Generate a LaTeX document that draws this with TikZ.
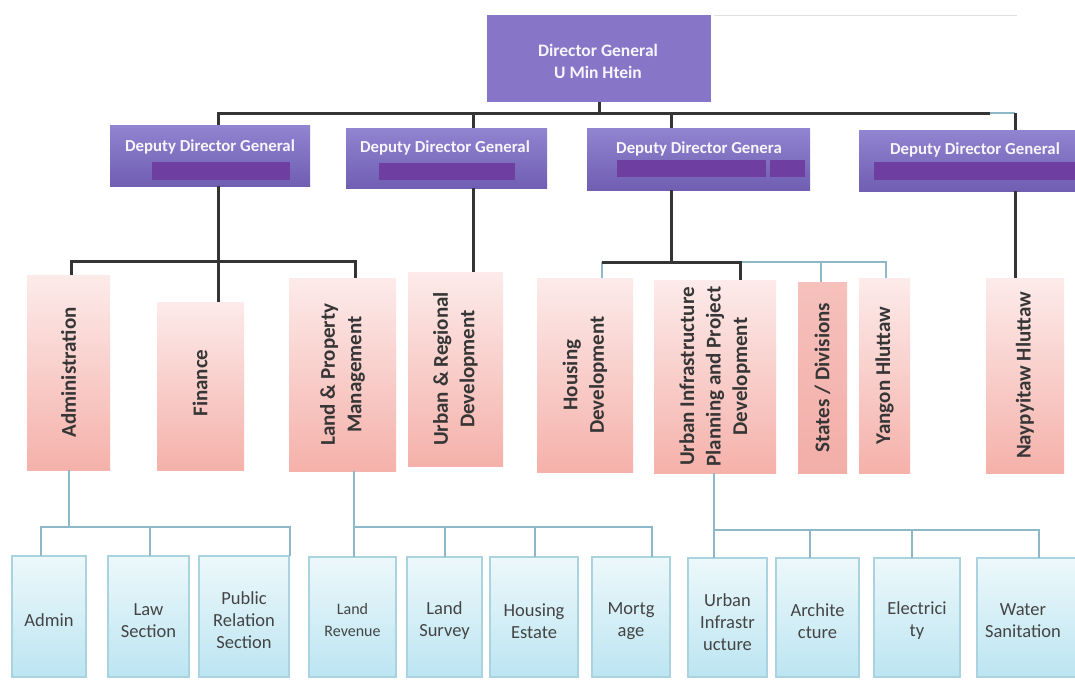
\documentclass[tikz,border=0pt]{standalone}
\usepackage{fontspec}
\setmainfont{Carlito}
\definecolor{purpTop}{HTML}{9184D0}
\definecolor{purpBot}{HTML}{705EB2}
\definecolor{purpBar}{HTML}{6E3FA0}
\definecolor{dgFill}{HTML}{8776C8}
\definecolor{pinkTop}{HTML}{FCEBEA}
\definecolor{pinkBot}{HTML}{F5B1AA}
\definecolor{pinkDeep}{HTML}{F3AEA8}
\definecolor{blueTop}{HTML}{EDF8FA}
\definecolor{blueBot}{HTML}{BCE5F2}
\definecolor{blueEdge}{HTML}{A9D3DF}
\definecolor{lineBlue}{HTML}{8DB8C8}
\definecolor{lineDark}{HTML}{343434}
\definecolor{txtDark}{HTML}{363636}
\definecolor{txtBlue}{HTML}{444444}

% box from its corners: style, name, x1, y1, x2, y2
\newcommand\orgbox[6]{%
  \node[#1, minimum width={(#5-#3)*1pt}, minimum height={(#6-#4)*1pt}]
    (#2) at ({(#3+#5)/2},{(#4+#6)/2}) {};}

\begin{document}
\begin{tikzpicture}[x=1pt,y=-1pt,
  base/.style={inner sep=0pt, outer sep=0pt},
  dgbox/.style={base, fill=dgFill},
  ddgbox/.style={base, top color=purpTop, bottom color=purpBot},
  ddgbar/.style={base, fill=purpBar},
  pinkbox/.style={base, top color=pinkTop, bottom color=pinkBot},
  pinkdeep/.style={base, top color=pinkDeep!70!pinkTop, bottom color=pinkDeep},
  bluebox/.style={base, top color=blueTop, bottom color=blueBot, draw=blueEdge, line width=1.2pt},
  dgtext/.style={base, text=white!92!purpTop, align=center, font=\bfseries\fontsize{17.5}{22}\selectfont},
  ddgtext/.style={base, text=white!92!purpTop, font=\bfseries\fontsize{16.8}{20}\selectfont},
  ptext/.style={base, rotate=90, text=txtDark, align=center, font=\bfseries\fontsize{21}{26.5}\selectfont},
  btext/.style={base, text=txtBlue, align=center, font=\fontsize{18.5}{22}\selectfont},
  blk/.style={draw=lineDark, line width=3pt},
  lbl/.style={draw=lineBlue, line width=1.8pt}
]
\useasboundingbox (0,0) rectangle (1075,681);
\fill[white] (0,0) rectangle (1075,681);

% faint rule across the top
\coordinate (rA) at (714,15);
\coordinate (rB) at (1017,15);
\draw[black!12, line width=1pt] (rA) -- (rB);

% ---------- Director General ----------
\orgbox{dgbox}{dg}{487}{15}{711}{102}
\node[dgtext] (dgT) at (598,61) {Director General\\U Min Htein};

% ---------- Deputy Directors General ----------
\orgbox{ddgbox}{ddg1}{110}{125}{310}{186}
\orgbox{ddgbox}{ddg2}{346}{128}{547}{188}
\orgbox{ddgbox}{ddg3}{587}{128}{810}{190}
\orgbox{ddgbox}{ddg4}{859}{130}{1078}{191}
\orgbox{ddgbar}{bar1}{152}{162}{290}{180}
\orgbox{ddgbar}{bar2}{379}{163}{515}{180}
\orgbox{ddgbar}{bar3a}{617}{160}{766}{177}
\orgbox{ddgbar}{bar3b}{770}{160}{805}{177}
\orgbox{ddgbar}{bar4}{874}{162}{1078}{180}
\node[ddgtext] (ddg1T) at (210,147) {Deputy Director General};
\node[ddgtext] (ddg2T) at (445,148) {Deputy Director General};
\node[ddgtext] (ddg3T) at (699,149) {Deputy Director Genera};
\node[ddgtext] (ddg4T) at (975,150) {Deputy Director General};

% ---------- departments ----------
\orgbox{pinkbox}{adm}{27}{275}{110}{470}
\orgbox{pinkbox}{fin}{157}{302}{244}{470}
\orgbox{pinkbox}{lpm}{289}{278}{396}{471}
\orgbox{pinkbox}{urd}{408}{272}{503}{466}
\orgbox{pinkbox}{hsd}{537}{278}{633}{472}
\orgbox{pinkbox}{uip}{654}{280}{776}{473}
\orgbox{pinkdeep}{std}{798}{282}{847}{473}
\orgbox{pinkbox}{ygn}{859}{278}{910}{473}
\orgbox{pinkbox}{npt}{986}{278}{1064}{473}
\node[ptext] (admT) at (adm) {Administration};
\node[ptext] (finT) at (200,383) {Finance};
\node[ptext] (lpmT) at (lpm) {Land \& Property\\Management};
\node[ptext] (urdT) at (urd) {Urban \& Regional\\Development};
\node[ptext] (hsdT) at (hsd) {Housing\\Development};
\node[ptext] (uipT) at (uip) {Urban Infrastructure\\Planning and Project\\Development};
\node[ptext] (stdT) at (std) {States / Divisions};
\node[ptext] (ygnT) at (ygn) {Yangon Hluttaw};
\node[ptext] (nptT) at (npt) {Naypyitaw Hluttaw};

% ---------- sections ----------
\orgbox{bluebox}{sAdm}{12}{556}{86}{677}
\orgbox{bluebox}{sLaw}{108}{556}{189}{677}
\orgbox{bluebox}{sPR}{199}{556}{289}{677}
\orgbox{bluebox}{sLR}{309}{557}{396}{677}
\orgbox{bluebox}{sLS}{407}{557}{482}{677}
\orgbox{bluebox}{sHE}{490}{557}{578}{677}
\orgbox{bluebox}{sMG}{592}{557}{670}{677}
\orgbox{bluebox}{sUI}{688}{558}{767}{677}
\orgbox{bluebox}{sAR}{776}{558}{859}{677}
\orgbox{bluebox}{sEL}{874}{558}{960}{677}
\orgbox{bluebox}{sWS}{977}{558}{1080}{677}
\node[btext] (sAdmT) at (49,620) {Admin};
\node[btext] (sLawT) at (148.5,621) {Law\\Section};
\node[btext] (sPRT) at (244,620) {Public\\Relation\\Section};
\node[btext, font=\fontsize{16}{22}\selectfont] (sLRT) at (352.5,620) {Land\\Revenue};
\node[btext] (sLST) at (444.5,621) {Land\\Survey};
\node[btext] (sHET) at (534,621) {Housing\\Estate};
\node[btext] (sMGT) at (631,621) {Mortg\\age};
\node[btext] (sUIT) at (727.5,622) {Urban\\Infrastr\\ucture};
\node[btext] (sART) at (817.5,621) {Archite\\cture};
\node[btext] (sELT) at (917,621) {Electrici\\ty};
\node[btext] (sWST) at (1023,621) {Water\\Sanitation};

% ---------- top bus ----------
\coordinate (bus1) at (218,113);
\coordinate (bus2) at (473,113);
\coordinate (bus3) at (671,113);
\coordinate (busE) at (990,113);
\coordinate (bus4) at (1015,113);
\draw[blk] (dg.south) -- (dg.south |- bus1);
\draw[blk] (bus1 |- ddg1.north) -- (bus1) -- (busE);
\draw[lbl] (busE) -- (bus4);
\draw[blk] (bus4) -- (bus4 |- ddg4.north);
\draw[blk] (bus2) -- (bus2 |- ddg2.north);
\draw[blk] (bus3) -- (bus3 |- ddg3.north);

% ---------- deputy -> departments ----------
\coordinate (m1) at (218,261);
\coordinate (m1L) at (71,261);
\coordinate (m1R) at (355,261);
\draw[blk] (m1 |- ddg1.south) -- (m1 |- fin.north);
\draw[blk] (m1L |- adm.north) -- (m1L) -- (m1R) -- (m1R |- lpm.north);
\draw[blk] (bus2 |- ddg2.south) -- (bus2 |- urd.north);

\coordinate (m3) at (671,262);
\coordinate (m3L) at (602,262);
\coordinate (m3R) at (740,262);
\coordinate (m3S) at (821,262);
\coordinate (m3Y) at (886,262);
\draw[lbl] (m3L) -- (m3L |- hsd.north);
\draw[lbl] (m3R) -- (m3Y) -- (m3Y |- ygn.north);
\draw[lbl] (m3S) -- (m3S |- std.north);
\draw[blk] (bus3 |- ddg3.south) -- (m3);
\draw[blk] (m3L) -- (m3R) -- (m3R |- uip.north);
\draw[blk] (bus4 |- ddg4.south) -- (bus4 |- npt.north);

% ---------- departments -> sections ----------
\coordinate (a0) at (69,527);
\coordinate (aL) at (41,527);
\coordinate (aM) at (150,527);
\coordinate (aR) at (290,527);
\draw[lbl] (a0 |- adm.south) -- (a0);
\draw[lbl] (aL |- sAdm.north) -- (aL) -- (aR) -- (aR |- sPR.north);
\draw[lbl] (aM) -- (aM |- sLaw.north);

\coordinate (l0) at (354,527);
\coordinate (l2) at (445,527);
\coordinate (l3) at (535,527);
\coordinate (l4) at (652,527);
\draw[lbl] (l0 |- lpm.south) -- (l0 |- sLR.north);
\draw[lbl] (l0) -- (l4) -- (l4 |- sMG.north);
\draw[lbl] (l2) -- (l2 |- sLS.north);
\draw[lbl] (l3) -- (l3 |- sHE.north);

\coordinate (u0) at (714,530);
\coordinate (u2) at (810,530);
\coordinate (u3) at (912,530);
\coordinate (u4) at (1039,530);
\draw[lbl] (u0 |- uip.south) -- (u0 |- sUI.north);
\draw[lbl] (u0) -- (u4) -- (u4 |- sWS.north);
\draw[lbl] (u2) -- (u2 |- sAR.north);
\draw[lbl] (u3) -- (u3 |- sEL.north);
\end{tikzpicture}
\end{document}
